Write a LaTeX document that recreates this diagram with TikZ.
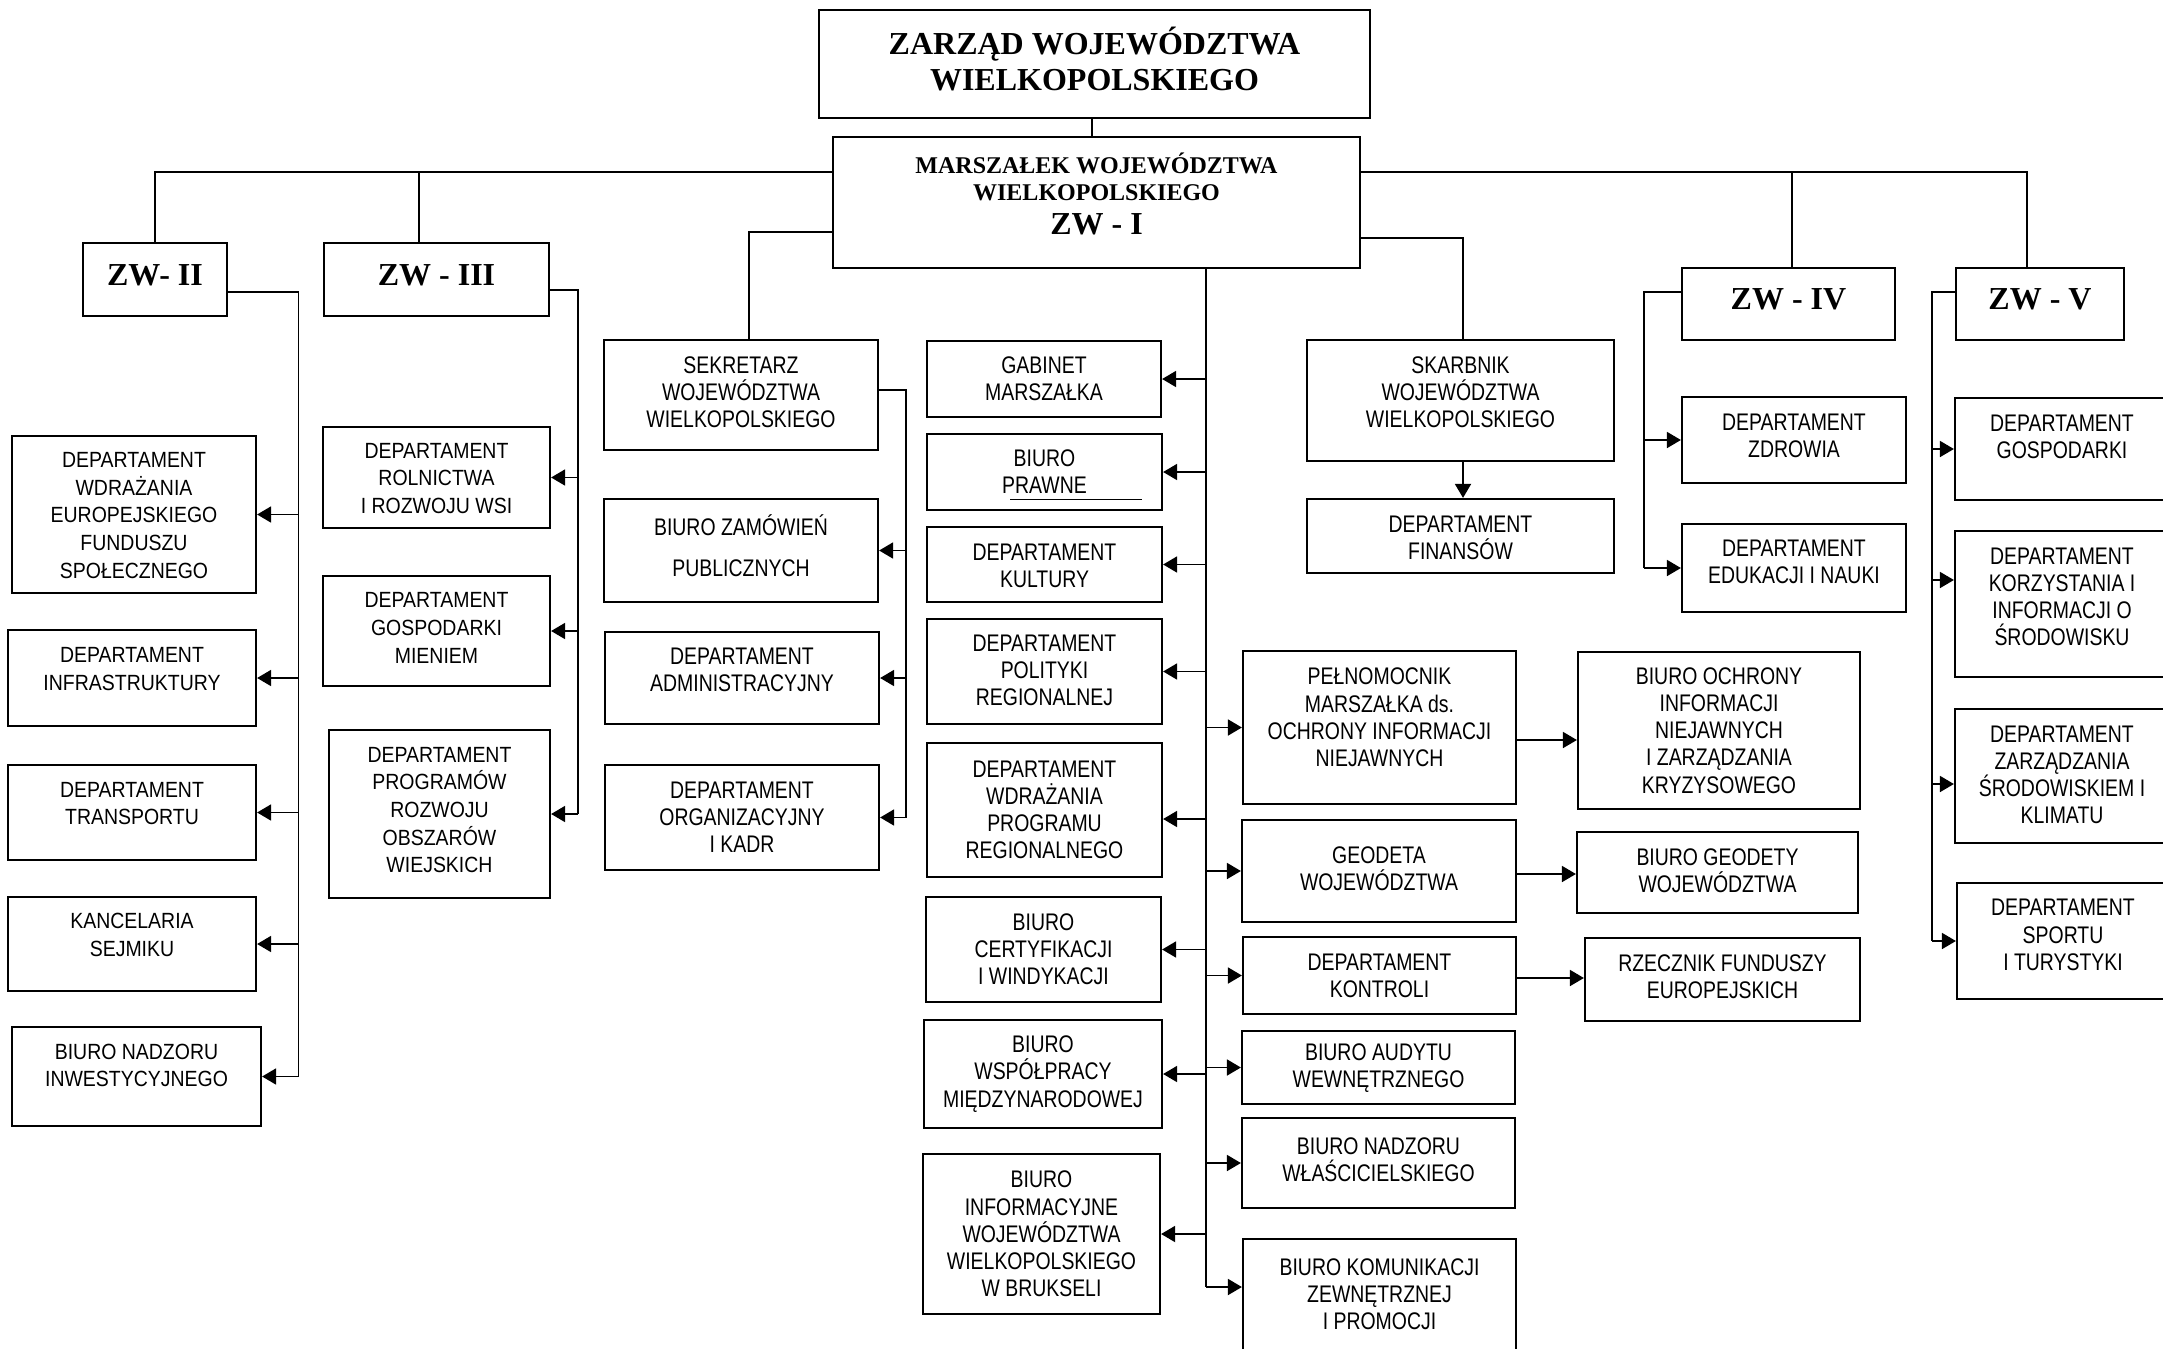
\documentclass[tikz,border=0pt]{standalone}
\usepackage{fontspec}
\setmainfont{Liberation Serif}
\newfontfamily\narA[FakeStretch=0.81]{Liberation Sans}
\newfontfamily\narB[FakeStretch=0.885]{Liberation Sans}
\usetikzlibrary{arrows.meta}
\tikzset{
 box/.style={draw, line width=2.2pt, inner sep=0pt},
 tA/.style={align=center, inner sep=0pt, font=\narA\fontsize{24}{27.2}\selectfont},
 tB/.style={align=center, inner sep=0pt, font=\narB\fontsize{22}{27.6}\selectfont},
 tT/.style={align=center, inner sep=0pt, font=\bfseries\fontsize{32}{36.5}\selectfont},
 tS/.style={align=center, inner sep=0pt, font=\bfseries\fontsize{24}{27}\selectfont},
 ln/.style={line width=1.8pt},
 arr/.style={line width=1.8pt, -{Triangle[length=14pt,width=16pt]}},
}
\newcommand\bx[8]{%
 \node[box, minimum width={(#5-#3)*1pt}, minimum height={(#6-#4)*1pt}] (#2) at ({(#3+#5)/2},{(#4+#6)/2}) {};
 \node[#1] (#2-t) at ({(#3+#5)/2},{(#4+#6)/2+#7}) {#8};
}
\begin{document}
\begin{tikzpicture}[x=1pt,y=-1pt]
\fill[white] (0,0) rectangle (2163,1349);
\useasboundingbox (0,0) rectangle (2163,1349);

% top
\bx{tT}{zarz}{819}{10}{1370}{118}{-5}{ZARZĄD WOJEWÓDZTWA\\WIELKOPOLSKIEGO}
\node[box, minimum width=527pt, minimum height=131pt] (marsz) at (1096.5,202.5) {};
\node[tS] (marsz-t) at (1096.5,177) {MARSZAŁEK WOJEWÓDZTWA\\WIELKOPOLSKIEGO};
\node[tT] (marsz-z) at (1096.5,224) {ZW - I};
\bx{tT}{zw2}{83}{243}{227}{316}{-4}{ZW- II}
\bx{tT}{zw3}{324}{243}{549}{316}{-4}{ZW - III}
\bx{tT}{zw4}{1682}{268}{1895}{340}{-5}{ZW - IV}
\bx{tT}{zw5}{1956}{268}{2124}{340}{-5}{ZW - V}

% ZW-II column
\bx{tB}{efs}{12}{436}{256}{593}{1}{DEPARTAMENT\\WDRAŻANIA\\EUROPEJSKIEGO\\FUNDUSZU\\SPOŁECZNEGO}
\bx{tB}{infra}{8}{630}{256}{726}{-9}{DEPARTAMENT\\INFRASTRUKTURY}
\bx{tB}{trans}{8}{765}{256}{860}{-9}{DEPARTAMENT\\TRANSPORTU}
\bx{tB}{kanc}{8}{897}{256}{991}{-9}{KANCELARIA\\SEJMIKU}
\bx{tB}{bni}{12}{1027}{261}{1126}{-11}{BIURO NADZORU\\INWESTYCYJNEGO}
% ZW-III column
\bx{tB}{rol}{323}{427}{550}{528}{1}{DEPARTAMENT\\ROLNICTWA\\I ROZWOJU WSI}
\bx{tB}{gmien}{323}{576}{550}{686}{-3}{DEPARTAMENT\\GOSPODARKI\\MIENIEM}
\bx{tB}{prow}{329}{730}{550}{898}{-4}{DEPARTAMENT\\PROGRAMÓW\\ROZWOJU\\OBSZARÓW\\WIEJSKICH}
% Sekretarz column
\bx{tA}{sek}{604}{340}{878}{450}{-3}{SEKRETARZ\\WOJEWÓDZTWA\\WIELKOPOLSKIEGO}
\bx{tA}{bzp}{604}{499}{878}{602}{-5}{BIURO ZAMÓWIEŃ\\[14pt]PUBLICZNYCH}
\bx{tA}{adm}{605}{632}{879}{724}{-8}{DEPARTAMENT\\ADMINISTRACYJNY}
\bx{tA}{org}{605}{765}{879}{870}{0}{DEPARTAMENT\\ORGANIZACYJNY\\I KADR}
% central left
\bx{tA}{gab}{927}{341}{1161}{417}{0}{GABINET\\MARSZAŁKA}
\bx{tA}{bpr}{927}{434}{1162}{510}{0}{BIURO\\PRAWNE}
\bx{tA}{kul}{927}{527}{1162}{602}{1}{DEPARTAMENT\\KULTURY}
\bx{tA}{pol}{927}{619}{1162}{724}{-1}{DEPARTAMENT\\POLITYKI\\REGIONALNEJ}
\bx{tA}{wpr}{927}{743}{1162}{877}{0}{DEPARTAMENT\\WDRAŻANIA\\PROGRAMU\\REGIONALNEGO}
\bx{tA}{cert}{926}{897}{1161}{1002}{0}{BIURO\\CERTYFIKACJI\\I WINDYKACJI}
\bx{tA}{wsp}{924}{1020}{1162}{1128}{0}{BIURO\\WSPÓŁPRACY\\MIĘDZYNARODOWEJ}
\bx{tA}{bru}{923}{1154}{1160}{1314}{0}{BIURO\\INFORMACYJNE\\WOJEWÓDZTWA\\WIELKOPOLSKIEGO\\W BRUKSELI}
% central right
\bx{tA}{peln}{1243}{651}{1516}{804}{-10}{PEŁNOMOCNIK\\MARSZAŁKA ds.\\OCHRONY INFORMACJI\\NIEJAWNYCH}
\bx{tA}{geo}{1242}{820}{1516}{922}{-2}{GEODETA\\WOJEWÓDZTWA}
\bx{tA}{kon}{1243}{937}{1516}{1014}{0}{DEPARTAMENT\\KONTROLI}
\bx{tA}{aud}{1242}{1031}{1515}{1104}{1}{BIURO AUDYTU\\WEWNĘTRZNEGO}
\bx{tA}{nwl}{1242}{1118}{1515}{1208}{-3}{BIURO NADZORU\\WŁAŚCICIELSKIEGO}
\bx{tA}{kom}{1243}{1239}{1516}{1360}{-5.5}{BIURO KOMUNIKACJI\\ZEWNĘTRZNEJ\\I PROMOCJI}
\bx{tA}{boin}{1578}{652}{1860}{809}{0}{BIURO OCHRONY\\INFORMACJI\\NIEJAWNYCH\\I ZARZĄDZANIA\\KRYZYSOWEGO}
\bx{tA}{bgeo}{1577}{832}{1858}{913}{-2}{BIURO GEODETY\\WOJEWÓDZTWA}
\bx{tA}{rfe}{1585}{938}{1860}{1021}{-3}{RZECZNIK FUNDUSZY\\EUROPEJSKICH}
% Skarbnik
\bx{tA}{skarb}{1307}{340}{1614}{461}{-8}{SKARBNIK\\WOJEWÓDZTWA\\WIELKOPOLSKIEGO}
\bx{tA}{fin}{1307}{499}{1614}{573}{2}{DEPARTAMENT\\FINANSÓW}
% ZW-IV
\bx{tA}{zdr}{1682}{397}{1906}{483}{-4}{DEPARTAMENT\\ZDROWIA}
\bx{tA}{edu}{1682}{524}{1906}{612}{-6}{DEPARTAMENT\\EDUKACJI I NAUKI}
% ZW-V
\bx{tA}{gosp}{1955}{398}{2169}{500}{-12}{DEPARTAMENT\\GOSPODARKI}
\bx{tA}{korz}{1955}{531}{2169}{677}{-7}{DEPARTAMENT\\KORZYSTANIA I\\INFORMACJI O\\ŚRODOWISKU}
\bx{tA}{zsr}{1955}{709}{2169}{843}{-1}{DEPARTAMENT\\ZARZĄDZANIA\\ŚRODOWISKIEM I\\KLIMATU}
\bx{tA}{spo}{1957}{883}{2169}{999}{-6}{DEPARTAMENT\\SPORTU\\I TURYSTYKI}

% underline in BIURO PRAWNE
\draw[line width=1pt] (1010,499) -- (1142,499);

% top connectors
\draw[ln] (zarz.south -| 1092,0) -- (marsz.north -| 1092,0);
\coordinate (tl) at (155,172);
\coordinate (t3) at (419,172);
\coordinate (tr) at (2027,172);
\coordinate (t4) at (1792,172);
\coordinate (ts) at (749,232);
\coordinate (tk) at (1463,238);
\draw[ln] (marsz.west |- tl) -- (tl) -- (zw2.north);
\draw[ln] (t3) -- (t3 |- zw3.north);
\draw[ln] (marsz.east |- tr) -- (tr) -- (tr |- zw5.north);
\draw[ln] (t4) -- (t4 |- zw4.north);
\draw[ln] (marsz.west |- ts) -- (ts) -- (ts |- sek.north);
\draw[ln] (marsz.east |- tk) -- (tk) -- (tk |- skarb.north);
\draw[arr] (skarb.south -| tk) -- (fin.north -| tk);

% ZW-II bus
\coordinate (b2) at (298.5,292);
\draw[ln] (zw2.east |- b2) -- (b2) -- (b2 |- bni.east);
\foreach \n in {efs,infra,trans,kanc,bni} \draw[arr] (\n.east -| b2) -- (\n.east);
% ZW-III bus
\coordinate (b3) at (578,290);
\draw[ln] (zw3.east |- b3) -- (b3) -- (b3 |- prow.east);
\foreach \n in {rol,gmien,prow} \draw[arr] (\n.east -| b3) -- (\n.east);
% Sekretarz bus
\coordinate (bs) at (906,390);
\draw[ln] (sek.east |- bs) -- (bs) -- (bs |- org.east);
\foreach \n in {bzp,adm,org} \draw[arr] (\n.east -| bs) -- (\n.east);
% central bus
\coordinate (bc) at (1206,268);
\coordinate (bce) at (1206,1287);
\draw[ln] (bc) -- (bce);
\foreach \n in {gab,bpr,kul,pol,cert,wsp,bru} \draw[arr] (\n.east -| bc) -- (\n.east);
\draw[arr] (bc |- 0,819) -- (wpr.east |- 0,819);
\foreach \n in {peln,geo,kon,aud,nwl} \draw[arr] (\n.west -| bc) -- (\n.west);
\draw[arr] (bce) -- (kom.west |- bce);
% second level
\draw[arr] (peln.east |- 0,740) -- (boin.west |- 0,740);
\draw[arr] (geo.east |- 0,874) -- (bgeo.west |- 0,874);
\draw[arr] (kon.east |- 0,978) -- (rfe.west |- 0,978);
% ZW-IV bus
\coordinate (b4) at (1644,292);
\draw[ln] (zw4.west |- b4) -- (b4) -- (b4 |- edu.west);
\foreach \n in {zdr,edu} \draw[arr] (\n.west -| b4) -- (\n.west);
% ZW-V bus
\coordinate (b5) at (1932,292);
\draw[ln] (zw5.west |- b5) -- (b5) -- (b5 |- spo.west);
\foreach \n in {gosp,spo} \draw[arr] (\n.west -| b5) -- (\n.west);
\draw[arr] (b5 |- 0,580) -- (korz.west |- 0,580);
\draw[arr] (b5 |- 0,784) -- (zsr.west |- 0,784);
\end{tikzpicture}
\end{document}
